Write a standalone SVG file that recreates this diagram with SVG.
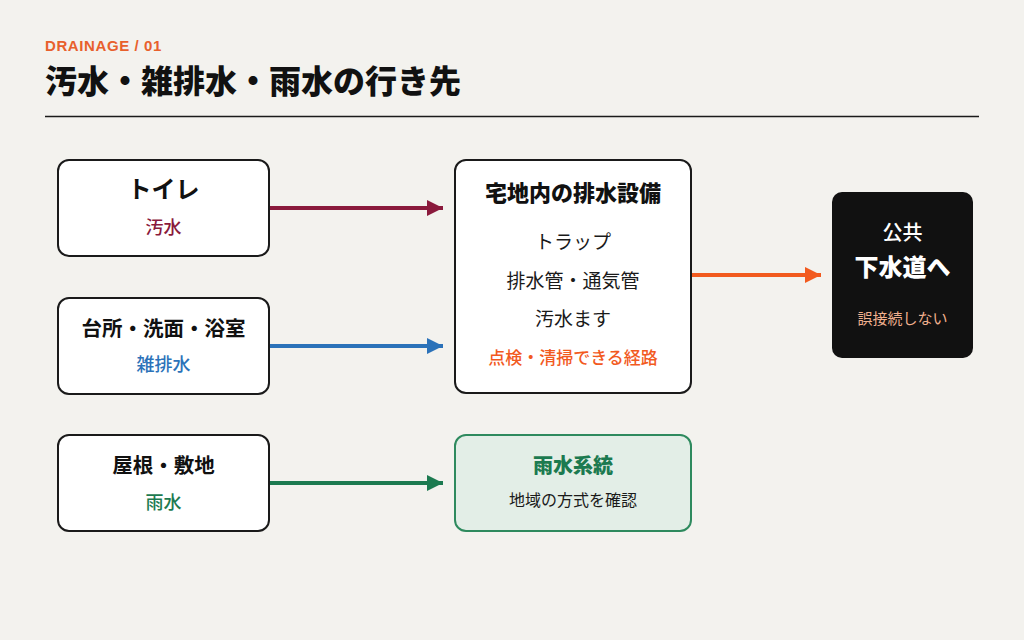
<svg xmlns="http://www.w3.org/2000/svg" width="1024" height="640" viewBox="0 0 1024 640">
<defs>
<style>
text{font-family:"Noto Sans CJK JP","Noto Sans",sans-serif;text-anchor:middle}
.box{fill:#ffffff;stroke:#1a1a1a;stroke-width:2}
.h{font-weight:700;fill:#111}
.b{font-size:19px;fill:#1a1a1a}
</style>
<marker id="mRed" viewBox="0 0 10 10" refX="10" refY="5" markerWidth="16" markerHeight="16" markerUnits="userSpaceOnUse" orient="auto"><path d="M0,0L10,5L0,10z" fill="#8a1a3c"/></marker>
<marker id="mBlue" viewBox="0 0 10 10" refX="10" refY="5" markerWidth="16" markerHeight="16" markerUnits="userSpaceOnUse" orient="auto"><path d="M0,0L10,5L0,10z" fill="#2b72b9"/></marker>
<marker id="mGreen" viewBox="0 0 10 10" refX="10" refY="5" markerWidth="16" markerHeight="16" markerUnits="userSpaceOnUse" orient="auto"><path d="M0,0L10,5L0,10z" fill="#1c7a50"/></marker>
<marker id="mOrange" viewBox="0 0 10 10" refX="10" refY="5" markerWidth="16" markerHeight="16" markerUnits="userSpaceOnUse" orient="auto"><path d="M0,0L10,5L0,10z" fill="#f25a1e"/></marker>
</defs>
<rect width="1024" height="640" fill="#f3f2ee"/>
<g id="header">
<text x="45" y="51" style="text-anchor:start;font-family:'Liberation Sans','Noto Sans',sans-serif;font-size:15px;font-weight:700;letter-spacing:0.6px;fill:#e8602c">DRAINAGE / 01</text>
<text x="45" y="93" style="text-anchor:start;font-size:32px;font-weight:900;fill:#111">汚水・雑排水・雨水の行き先</text>
<line x1="45" y1="116.5" x2="979" y2="116.5" stroke="#1a1a1a" stroke-width="1.5"/>
</g>
<g id="connectors" fill="none" stroke-width="4">
<line x1="269" y1="208" x2="443" y2="208" stroke="#8a1a3c" marker-end="url(#mRed)"/>
<line x1="269" y1="346" x2="443" y2="346" stroke="#2b72b9" marker-end="url(#mBlue)"/>
<line x1="269" y1="483" x2="443" y2="483" stroke="#1c7a50" marker-end="url(#mGreen)"/>
<line x1="691" y1="275" x2="821" y2="275" stroke="#f25a1e" marker-end="url(#mOrange)"/>
</g>
<g id="toilet">
<rect class="box" x="58" y="160" width="211" height="96" rx="11"/>
<text class="h" x="163.5" y="198" font-size="24">トイレ</text>
<text x="163.5" y="234" font-size="18" font-weight="500" fill="#8a1a3c">汚水</text>
</g>
<g id="kitchen">
<rect class="box" x="58" y="298" width="211" height="96" rx="11"/>
<text class="h" x="163.5" y="336" font-size="20.5">台所・洗面・浴室</text>
<text x="163.5" y="371" font-size="18" font-weight="500" fill="#2b72b9">雑排水</text>
</g>
<g id="roof">
<rect class="box" x="58" y="435" width="211" height="96" rx="11"/>
<text class="h" x="163.5" y="473" font-size="20.5">屋根・敷地</text>
<text x="163.5" y="509" font-size="18" font-weight="500" fill="#1c7a50">雨水</text>
</g>
<g id="facility">
<rect class="box" x="455" y="160" width="236" height="233" rx="11"/>
<text x="573" y="201" font-size="22" font-weight="900" fill="#111">宅地内の排水設備</text>
<text class="b" x="573" y="249">トラップ</text>
<text class="b" x="573" y="288">排水管・通気管</text>
<text class="b" x="573" y="326">汚水ます</text>
<text x="573" y="364" font-size="17" font-weight="500" fill="#f25a1e">点検・清掃できる経路</text>
</g>
<g id="rain">
<rect x="455" y="435" width="236" height="96" rx="11" fill="#e3eee7" stroke="#2e8a5e" stroke-width="2"/>
<text x="573" y="473" font-size="20" font-weight="900" fill="#1c7a50">雨水系統</text>
<text x="573" y="506" font-size="16" fill="#1a1a1a">地域の方式を確認</text>
</g>
<g id="sewer">
<rect x="832" y="192" width="141" height="166" rx="10" fill="#111111"/>
<text x="902.5" y="240" font-size="20" font-weight="500" fill="#ffffff">公共</text>
<text x="902.5" y="276" font-size="24" font-weight="900" fill="#ffffff">下水道へ</text>
<text x="902.5" y="324" font-size="15" fill="#f0b08e">誤接続しない</text>
</g>
</svg>
